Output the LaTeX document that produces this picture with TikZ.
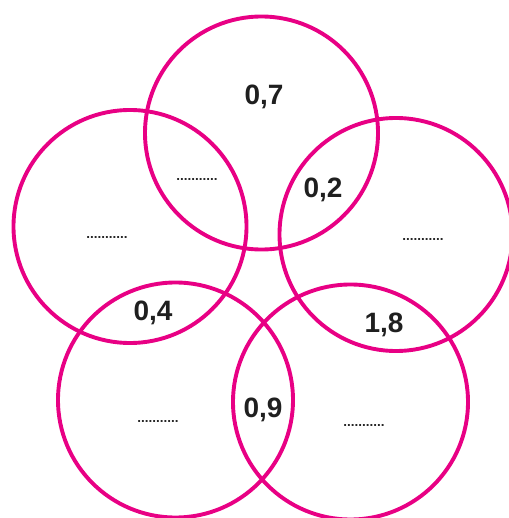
\documentclass[tikz,border=0pt]{standalone}
\usepackage{fontspec}
\setmainfont{Liberation Sans}
\usepackage{xcolor}
\usepackage{tikz}
\definecolor{ringpink}{RGB}{232,0,132}
\newcommand{\ValFont}{\fontsize{28}{32}\selectfont\bfseries}
\newcommand{\GapFont}{\fontsize{13.5}{15}\selectfont\bfseries}
\newcommand{\Gap}{{\GapFont ...........}}

\begin{document}
\begin{tikzpicture}[x=1pt,y=-1pt]
        \tikzset{ring/.style={draw=ringpink,line width=3.9pt},
          val/.style={text=black!88,inner sep=0pt},
          gap/.style={text=black!85,inner sep=0pt}}
        \useasboundingbox (0,0) rectangle (508,518);
        % the five rings
        \coordinate (ctop) at (261.5,133);
        \coordinate (cleft) at (130,226.5);
        \coordinate (cright) at (396,234.5);
        \coordinate (cbl) at (175.5,400);
        \coordinate (cbr) at (350.5,402);
        \draw[ring] (ctop) circle (116.5);
        \draw[ring] (cleft) circle (116.5);
        \draw[ring] (cright) circle (116.5);
        \draw[ring] (cbl) circle (117.5);
        \draw[ring] (cbr) circle (117.5);
        % values
        \node[val] (vtop) at (264,97) {{\ValFont 0,7}};
        \node[val] (vtr) at (323,190) {{\ValFont 0,2}};
        \node[val] (vlb) at (153,313) {{\ValFont 0,4}};
        \node[val] (vrb) at (384,325) {{\ValFont 1,8}};
        \node[val] (vmid) at (263,410) {{\ValFont 0,9}};
        % blanks
        \node[gap] (btl) at (197,179) {\Gap};
        \node[gap] (bleft) at (107,237) {\Gap};
        \node[gap] (bright) at (423,239) {\Gap};
        \node[gap] (bbl) at (158,421) {\Gap};
        \node[gap] (bbr) at (364,425) {\Gap};
      \end{tikzpicture}
\end{document}
